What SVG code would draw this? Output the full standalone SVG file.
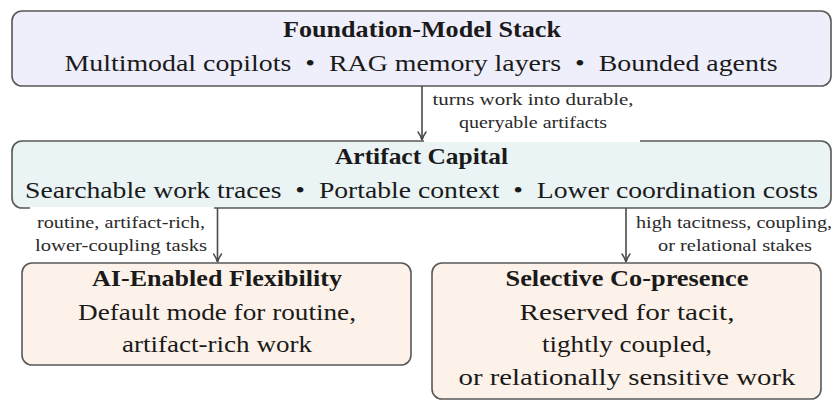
<svg xmlns="http://www.w3.org/2000/svg" width="835" height="401" viewBox="0 0 835 401">
<style>
.box{stroke:#585858;stroke-width:1.6}
.t{font-size:23px;fill:#1a1a1a;text-anchor:middle}
.b{font-weight:bold}
.l{font-size:16px;fill:#2a2a2a;text-anchor:middle}
.pre{white-space:pre}
.conn{stroke:#4a4a4a;stroke-width:1.6;fill:none}
</style>
<defs>
<marker id="ah" viewBox="0 0 10 10" refX="9" refY="5" markerWidth="10" markerHeight="10" markerUnits="userSpaceOnUse" orient="auto">
<path d="M1,1 Q5,4 9,5 Q5,6 1,9" fill="none" stroke="#4a4a4a" stroke-width="1.5" stroke-linecap="round"/>
</marker>
</defs>
<rect width="835" height="401" fill="#ffffff"/>
<g font-family="'Liberation Serif', 'Times New Roman', serif">
<g id="foundation">
<rect class="box" x="12" y="11" width="819" height="75" rx="10" fill="#efeefb"/>
<text class="t b" x="422" y="37" textLength="278" lengthAdjust="spacingAndGlyphs">Foundation-Model Stack</text>
<text class="t pre" x="421" y="71" textLength="713" lengthAdjust="spacingAndGlyphs">Multimodal copilots  •  RAG memory layers  •  Bounded agents</text>
</g>
<g id="artifact">
<rect class="box" x="12" y="141" width="819" height="67" rx="10" fill="#eaf4f5"/>
<text class="t b" x="421.5" y="164" textLength="173" lengthAdjust="spacingAndGlyphs">Artifact Capital</text>
<text class="t pre" x="421.5" y="198" textLength="793" lengthAdjust="spacingAndGlyphs">Searchable work traces  •  Portable context  •  Lower coordination costs</text>
</g>
<g id="flexibility">
<rect class="box" x="22" y="263" width="389" height="102" rx="10" fill="#fdf2e9"/>
<text class="t b" x="217" y="286" textLength="250" lengthAdjust="spacingAndGlyphs">AI-Enabled Flexibility</text>
<text class="t" x="217" y="320" textLength="278" lengthAdjust="spacingAndGlyphs">Default mode for routine,</text>
<text class="t" x="217" y="352" textLength="190" lengthAdjust="spacingAndGlyphs">artifact-rich work</text>
</g>
<g id="copresence">
<rect class="box" x="432" y="263" width="389" height="136" rx="10" fill="#fdf2e9"/>
<text class="t b" x="627" y="286" textLength="243" lengthAdjust="spacingAndGlyphs">Selective Co-presence</text>
<text class="t" x="627" y="320" textLength="215" lengthAdjust="spacingAndGlyphs">Reserved for tacit,</text>
<text class="t" x="627" y="352" textLength="170" lengthAdjust="spacingAndGlyphs">tightly coupled,</text>
<text class="t" x="627" y="385" textLength="337" lengthAdjust="spacingAndGlyphs">or relationally sensitive work</text>
</g>
<g id="connectors">
<rect x="424" y="87" width="216" height="55" fill="#ffffff"/>
<rect x="30" y="207" width="184" height="55" fill="#ffffff"/>
<line class="conn" x1="422" y1="86" x2="422" y2="140" marker-end="url(#ah)"/>
<line class="conn" x1="217.5" y1="208" x2="217.5" y2="262" marker-end="url(#ah)"/>
<line class="conn" x1="626" y1="208" x2="626" y2="262" marker-end="url(#ah)"/>
<text class="l" x="533" y="105" textLength="201" lengthAdjust="spacingAndGlyphs">turns work into durable,</text>
<text class="l" x="533" y="128" textLength="148" lengthAdjust="spacingAndGlyphs">queryable artifacts</text>
<text class="l" x="121" y="228" textLength="168" lengthAdjust="spacingAndGlyphs">routine, artifact-rich,</text>
<text class="l" x="121" y="251" textLength="172" lengthAdjust="spacingAndGlyphs">lower-coupling tasks</text>
<text class="l" x="734" y="228" textLength="196" lengthAdjust="spacingAndGlyphs">high tacitness, coupling,</text>
<text class="l" x="735" y="251" textLength="154" lengthAdjust="spacingAndGlyphs">or relational stakes</text>
</g>
</g>
</svg>
